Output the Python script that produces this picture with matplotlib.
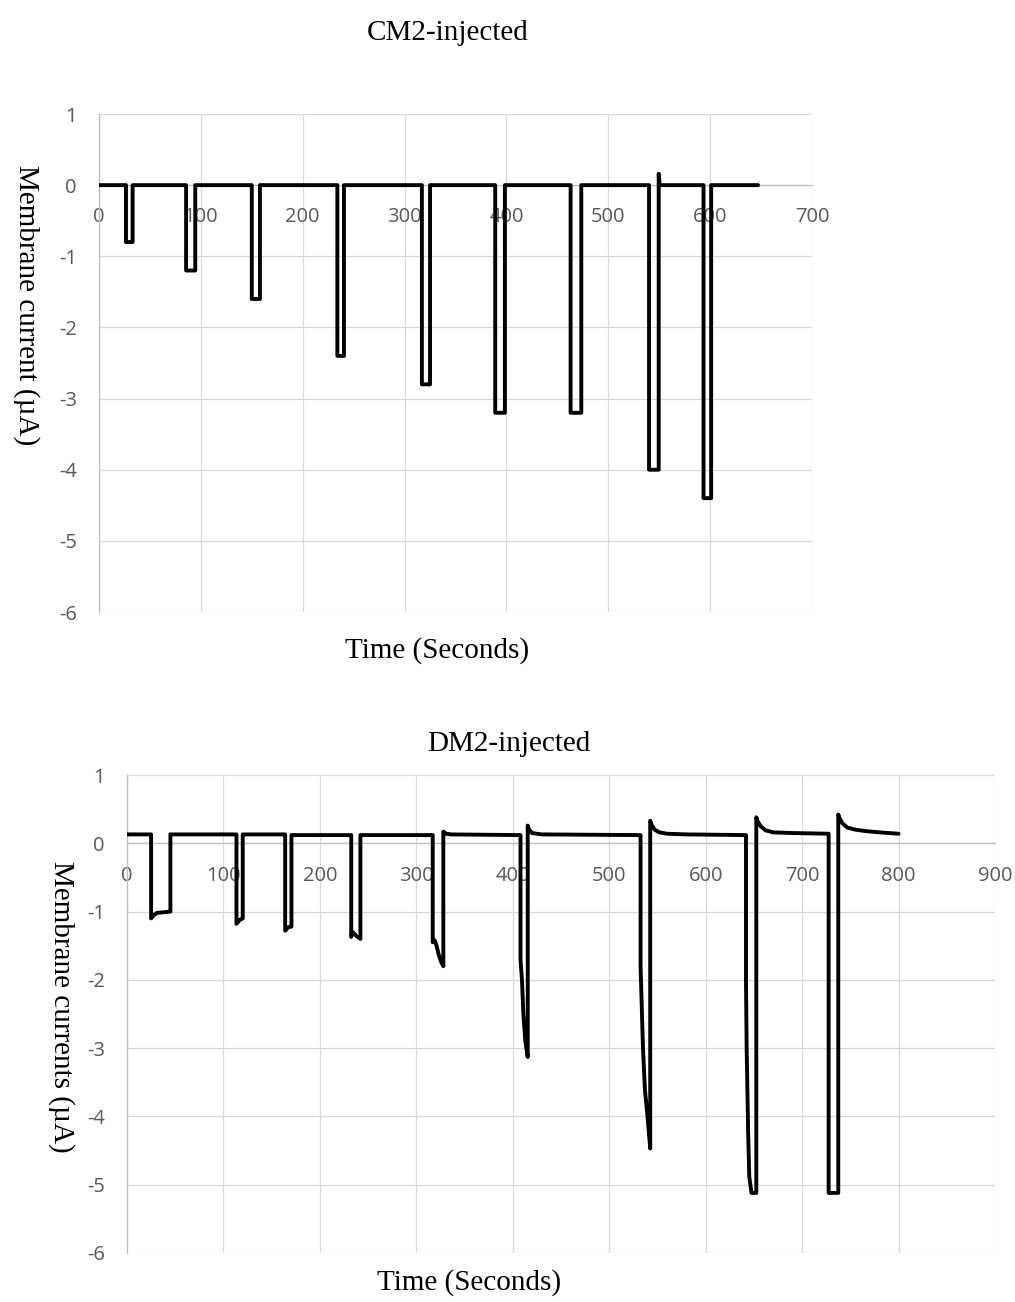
import matplotlib
matplotlib.use("Agg")
import matplotlib.pyplot as plt

plt.rcParams["axes.unicode_minus"] = False

W, H = 1015, 1302

SERIF = ["Liberation Serif", "DejaVu Serif"]
TICK_FONT = ["Open Sans", "DejaVu Sans"]
TICK_COLOR = "#595959"
GRID = "#d9d9d9"
AXIS = "#bfbfbf"

# ── CM2-injected: time (s) / membrane current (µA) ─────────────────────────
cm2_t = [0, 26.5, 26.5, 33, 33, 85.5, 85.5, 94.5, 94.5, 150, 150, 158, 158,
         234, 234, 240.5, 240.5, 317, 317, 325, 325, 389, 389, 398.5, 398.5,
         463, 463, 473.5, 473.5, 540, 540, 549.5, 549.5, 550.5, 593.5, 593.5,
         601, 601, 647]
cm2_i = [0, 0, -0.8, -0.8, 0, 0, -1.2, -1.2, 0, 0, -1.6, -1.6, 0,
         0, -2.4, -2.4, 0, 0, -2.8, -2.8, 0, 0, -3.2, -3.2, 0,
         0, -3.2, -3.2, 0, 0, -4.0, -4.0, 0.16, 0, 0, -4.4,
         -4.4, 0, 0]

# ── DM2-injected ──────────────────────────────────────────────────────────
dm2_t = [0, 25, 25, 28, 31, 45, 45, 113.5, 113.5, 117, 120, 120,
         164, 164, 167, 170.5, 170.5, 232.5, 232.5, 234, 238, 242, 242,
         317, 317, 319, 321, 323, 325.5, 328, 328, 331, 336,
         408, 408, 409.5, 411, 413, 415.5, 415.5, 417, 420, 430,
         532.5, 532.5, 535, 537, 540, 542.5, 542.5, 544, 547, 552, 560, 580,
         641.8, 641.8, 642.5, 644, 645.2, 647.5, 652.5, 652.5, 654, 657, 662,
         670, 690, 727.5, 727.5, 737.5, 737.5, 739, 742, 747, 755, 765, 780, 800]
dm2_i = [0.13, 0.13, -1.1, -1.05, -1.02, -1.0, 0.13, 0.13, -1.18, -1.12, -1.1, 0.13,
         0.13, -1.28, -1.23, -1.22, 0.12, 0.12, -1.37, -1.3, -1.36, -1.4, 0.12,
         0.12, -1.45, -1.42, -1.5, -1.62, -1.73, -1.8, 0.17, 0.14, 0.13,
         0.12, -1.7, -2.0, -2.5, -2.9, -3.13, 0.26, 0.2, 0.15, 0.13,
         0.12, -1.8, -3.0, -3.6, -4.05, -4.47, 0.33, 0.27, 0.2, 0.16, 0.14, 0.13,
         0.12, -2.0, -3.0, -4.2, -4.88, -5.12, -5.12, 0.38, 0.32, 0.25, 0.19,
         0.16, 0.15, 0.14, -5.12, -5.12, 0.42, 0.36, 0.29, 0.23, 0.2, 0.18, 0.16, 0.14]

y_ticks = [1, 0, -1, -2, -3, -4, -5, -6]
cm2_xticks = [0, 100, 200, 300, 400, 500, 600, 700]
dm2_xticks = [0, 100, 200, 300, 400, 500, 600, 700, 800, 900]

fig = plt.figure(figsize=(W / 100, H / 100), dpi=100)


def px_axes(left, top, right, bottom):
    return fig.add_axes([left / W, 1 - bottom / H, (right - left) / W, (bottom - top) / H])


def style(ax, xticks, xmax):
    ax.set_xlim(0, xmax)
    ax.set_ylim(-6, 1)
    ax.set_xticks(xticks)
    ax.set_yticks(y_ticks)
    ax.grid(True, color=GRID, linewidth=0.9)
    ax.set_axisbelow(True)
    for s in ("top", "right"):
        ax.spines[s].set_visible(False)
    ax.spines["bottom"].set_position(("data", 0))
    ax.spines["bottom"].set_color(AXIS)
    ax.spines["left"].set_color(AXIS)
    ax.spines["bottom"].set_linewidth(0.9)
    ax.spines["left"].set_linewidth(0.9)
    ax.tick_params(axis="x", length=0, pad=16, labelsize=14.5, labelcolor=TICK_COLOR)
    ax.tick_params(axis="y", length=0, pad=16, labelsize=14.5, labelcolor=TICK_COLOR)
    for lab in ax.get_xticklabels() + ax.get_yticklabels():
        lab.set_family(TICK_FONT)


def ftext(x, y, s, **kw):
    fig.text(x / W, 1 - y / H, s, family=SERIF, fontsize=21, **kw)


# top chart
ax1 = px_axes(99, 114, 812, 612)
style(ax1, cm2_xticks, 700)
ax1.plot(cm2_t, cm2_i, color="black", linewidth=2.8, zorder=3,
         solid_joinstyle="round", solid_capstyle="round")
ftext(448, 40, "CM2-injected", ha="center", va="baseline")
ftext(437, 658, "Time (Seconds)", ha="center", va="baseline")
ftext(26, 305, "Membrane current (µA)", ha="center", va="center", rotation=270)

# bottom chart
ax2 = px_axes(127, 775, 995, 1253)
style(ax2, dm2_xticks, 900)
ax2.plot(dm2_t, dm2_i, color="black", linewidth=2.8, zorder=3,
         solid_joinstyle="round", solid_capstyle="round")
ftext(509, 751, "DM2-injected", ha="center", va="baseline")
ftext(469, 1290, "Time (Seconds)", ha="center", va="baseline")
ftext(61, 1007, "Membrane currents (µA)", ha="center", va="center", rotation=270)

fig.savefig("out.png", dpi=100, facecolor="white")
plt.close(fig)
